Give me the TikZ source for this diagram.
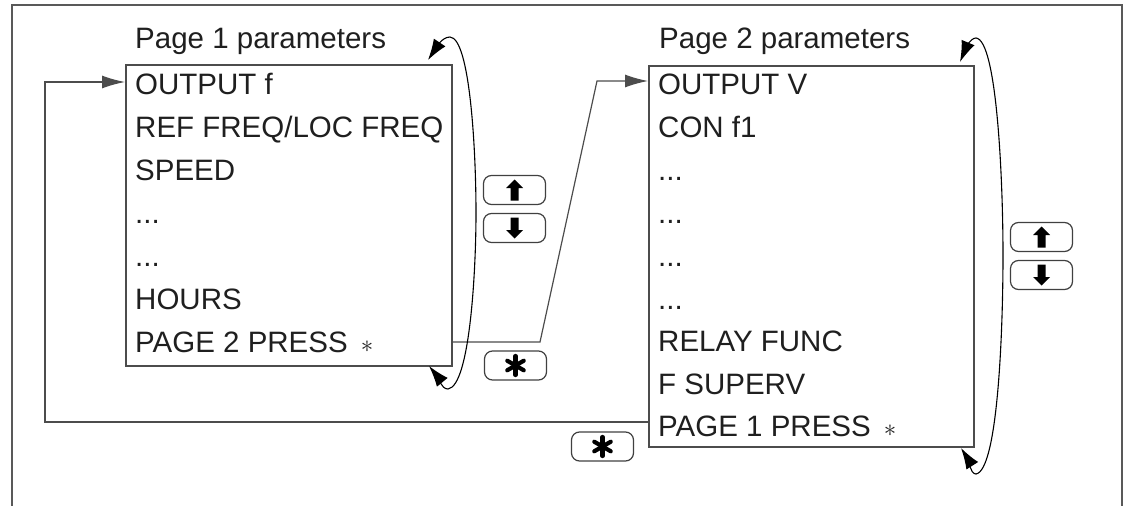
\documentclass[tikz,border=0pt]{standalone}
\usepackage{fontspec}
\setmainfont{Liberation Sans}
\usetikzlibrary{arrows.meta}
\begin{document}
\begin{tikzpicture}[x=1pt,y=-1pt,
  frameline/.style={line width=1.8pt,draw=black!65},
  box/.style={draw=black!70,line width=1.6pt,inner sep=0pt,anchor=north west},
  item/.style={anchor=base west,inner sep=0pt,text=black!88,font=\fontsize{29.5}{34}\selectfont},
  conn/.style={draw=black!70,line width=1.2pt},
  connarrow/.style={conn,-{Latex[length=23pt,width=13pt]}},
  looparrow/.style={black,line width=1.1pt,{Latex[length=21pt,width=14pt]}-{Latex[length=21pt,width=14pt]}},
  keybtn/.style={draw=black!75,line width=1.2pt,rounded corners=8pt,minimum width=62pt,minimum height=29pt,inner sep=0pt},
  glyph/.style={fill=black,draw=none}
]
\useasboundingbox (0,0) rectangle (1125,506);
% outer frame (open at the bottom)
\draw[frameline] (12,506) -- (12,5) -- (1122,5) -- (1122,506);

% page 1
\node[item] (t1) at (135,48) {Page 1 parameters};
\node[box,minimum width=326pt,minimum height=301pt] (b1) at (125,64) {};
\node[item] (a1) at (135,94) {OUTPUT f};
\node[item] (a2) at (135,137) {REF FREQ/LOC FREQ};
\node[item] (a3) at (135,180) {SPEED};
\node[item] (a4) at (135,223) {...};
\node[item] (a5) at (135,266) {...};
\node[item] (a6) at (135,309) {HOURS};
\node[item] (a7) at (135,352) {PAGE 2 PRESS \,$\ast$};

% page 2
\node[item] (t2) at (659,48) {Page 2 parameters};
\node[box,minimum width=325pt,minimum height=381pt] (b2) at (648,65) {};
\node[item] (c1) at (658,94) {OUTPUT V};
\node[item] (c2) at (658,137) {CON f1};
\node[item] (c3) at (658,180) {...};
\node[item] (c4) at (658,223) {...};
\node[item] (c5) at (658,266) {...};
\node[item] (c6) at (658,309) {...};
\node[item] (c7) at (658,351) {RELAY FUNC};
\node[item] (c8) at (658,394) {F SUPERV};
\node[item] (c9) at (658,436) {PAGE 1 PRESS \,$\ast$};

% keys
\node[keybtn] (u1) at (514.5,190) {};
\node[keybtn] (d1) at (514.5,228) {};
\node[keybtn] (s1) at (515.5,365.5) {};
\node[keybtn] (u2) at (1041.5,237) {};
\node[keybtn] (d2) at (1041.5,275) {};
\node[keybtn] (s2) at (602.5,446.5) {};

\foreach \k in {u1,u2}{
  \begin{scope}[shift={(\k.center)}]
    \fill[glyph] (0,-10.5) -- (8.5,-2) -- (4,-2) -- (4,10.5) -- (-4,10.5) -- (-4,-2) -- (-8.5,-2) -- cycle;
  \end{scope}}
\foreach \k in {d1,d2}{
  \begin{scope}[shift={(\k.center)}]
    \fill[glyph] (0,10.5) -- (8.5,2) -- (4,2) -- (4,-10.5) -- (-4,-10.5) -- (-4,2) -- (-8.5,2) -- cycle;
  \end{scope}}
\foreach \k in {s1,s2}{
  \begin{scope}[shift={(\k.center)}]
    \draw[line width=4.2pt,line cap=round] (0,-9.5) -- (0,9.5);
    \draw[line width=4.2pt,line cap=round] (8.2,-4.75) -- (-8.2,4.75);
    \draw[line width=4.2pt,line cap=round] (-8.2,-4.75) -- (8.2,4.75);
  \end{scope}}

% connector page 1 -> page 2
\coordinate (k1) at (540,342);
\coordinate (k2) at (597,81);
\draw[connarrow] (b1.east |- k1) -- (k1) -- (k2) -- (b2.west |- k2);

% connector page 2 -> page 1
\coordinate (k3) at (45,422);
\coordinate (k4) at (45,82);
\draw[connarrow] (b2.west |- k3) -- (k3) -- (k4) -- (b1.west |- k4);

% scroll loops
\coordinate (l1b) at (429,366);
\coordinate (l1t) at (428,60);
\draw[looparrow] (l1b) .. controls (438,377) and (441,389) .. (448,389)
  .. controls (470,386) and (476,270) .. (476,213)
  .. controls (476,150) and (470,38) .. (450,37)
  .. controls (442,37) and (436,48) .. (l1t);
\coordinate (l2b) at (961,448);
\coordinate (l2t) at (960,62);
\draw[looparrow] (l2b) .. controls (968,459) and (970,474) .. (976,474)
  .. controls (998,470) and (1003,330) .. (1003,255)
  .. controls (1003,180) and (997,40) .. (976,38)
  .. controls (970,38) and (965,50) .. (l2t);
\end{tikzpicture}
\end{document}
